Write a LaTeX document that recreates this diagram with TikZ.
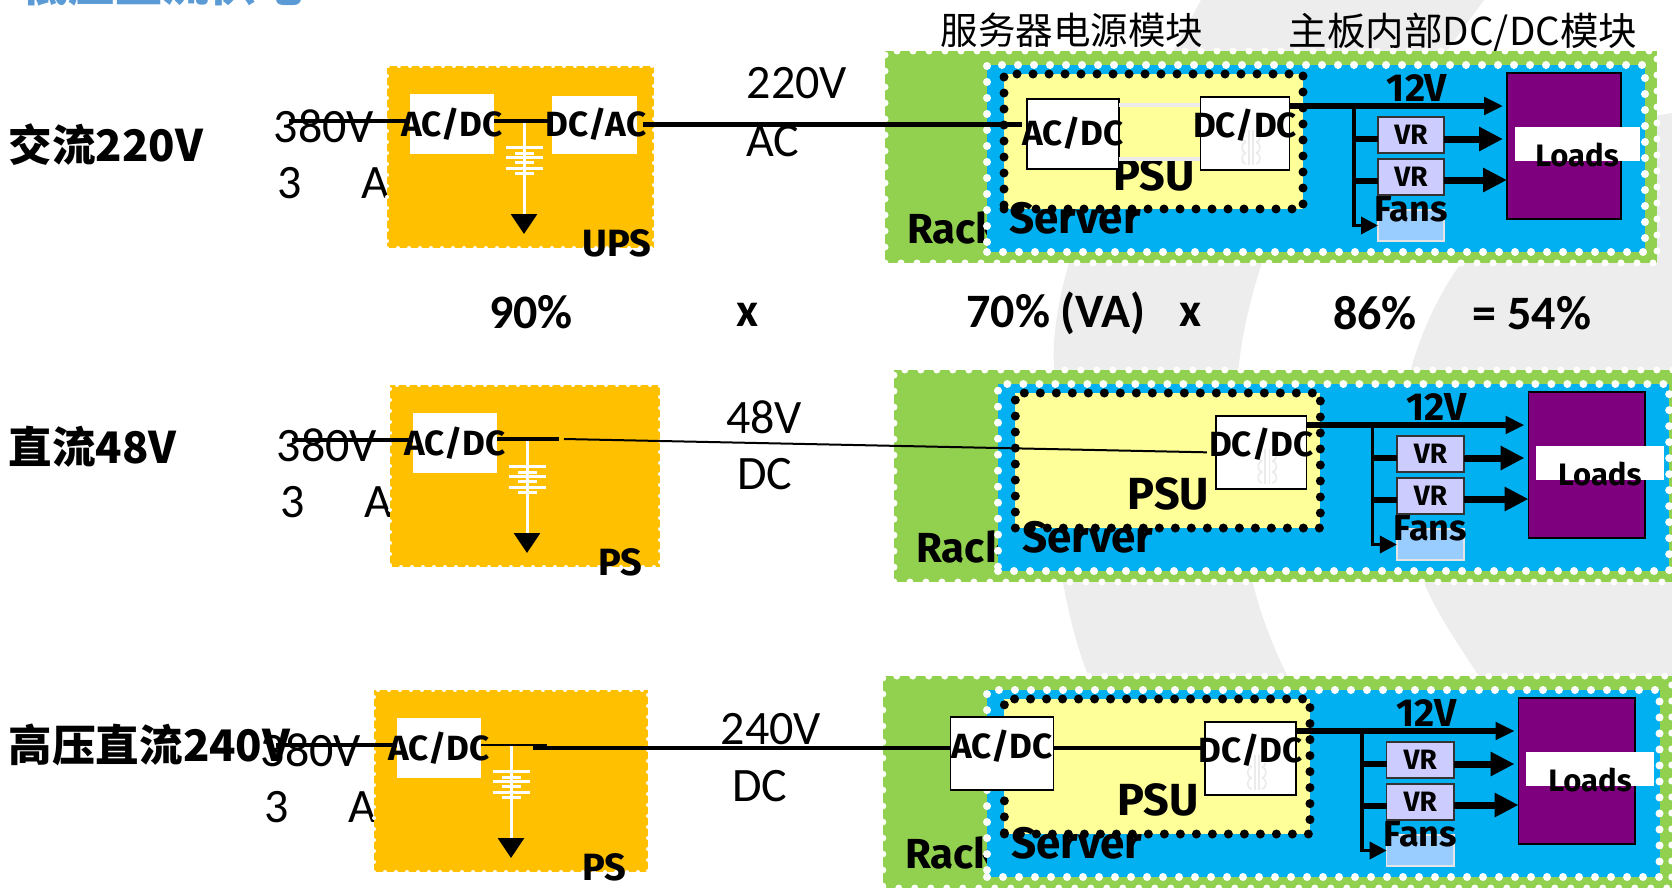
\documentclass[tikz,border=0pt]{standalone}
\usepackage{fontspec}
\setmainfont{Carlito}
\newfontfamily\comicfont{Fira Sans}
\newfontfamily\cjkfont{Noto Sans CJK SC}
\usetikzlibrary{arrows.meta}
\newcommand{\fsz}[1]{\fontsize{#1}{#1}\selectfont}

\tikzset{
  every node/.style={inner sep=0pt, outer sep=0pt},
  wmark/.style={fill=black!7},
  rackbox/.style={fill=rackgreen, draw=white, line width=7pt, line cap=round, dash pattern=on 0pt off 16pt},
  serverbox/.style={fill=serverblue, draw=white, line width=8pt, line cap=round, dash pattern=on 0pt off 16pt},
  psubox/.style={fill=psuyellow, draw=black, line width=9pt, line cap=round, dash pattern=on 0pt off 16pt},
  upsbox/.style={fill=upsorange, draw=white, line width=4pt, line cap=round, dash pattern=on 0pt off 11pt},
  modbox/.style={fill=white, draw=black, line width=1.6pt},
  plainbox/.style={fill=white},
  vrbox/.style={fill=vrblue, draw=black!80, line width=1.6pt},
  fanbox/.style={fill=fanblue, draw=black!10, line width=1.6pt},
  loadbox/.style={fill=loadpurple, draw=black, line width=1.6pt},
  comic/.style={font=\comicfont\bfseries\fsz{#1}},
  plain/.style={font=\fsz{48}},
  bold/.style={font=\bfseries\fsz{48}},
  rowlabel/.style={font=\cjkfont\bfseries\fsz{43.5}, anchor=west},
  headlabel/.style={font=\cjkfont\fsz{37.5}},
  wire/.style={line width=4.5pt},
  mainarrow/.style={line width=6pt, -{Triangle[length=19pt,width=17pt]}},
  bigarrow/.style={line width=7pt, -{Triangle[length=24pt,width=23pt]}},
  busline/.style={line width=3.5pt},
  batline/.style={draw=white, line width=3pt},
  xfmr/.style={draw=black!8, line width=1.6pt}
}
\definecolor{rackgreen}{HTML}{92D050}
\definecolor{serverblue}{HTML}{00B0F0}
\definecolor{psuyellow}{HTML}{FFFF99}
\definecolor{upsorange}{HTML}{FFC000}
\definecolor{vrblue}{HTML}{CCCCFF}
\definecolor{fanblue}{HTML}{99CCFF}
\definecolor{loadpurple}{HTML}{7F007F}
\definecolor{titleblue}{HTML}{5B9BD5}

\begin{document}
\begin{tikzpicture}[x=1pt, y=-1pt]
\useasboundingbox (0,0) rectangle (1672,887);
\clip (0,0) rectangle (1672,887);

% backdrop
\fill[wmark] (1201,0) .. controls (1130,130) and (1080,220) .. (1069,263)
  .. controls (1058,300) and (1052,340) .. (1054,365)
  .. controls (1052,450) and (1056,540) .. (1063,583)
  .. controls (1070,620) and (1078,650) .. (1088,675)
  -- (1150,887) -- (1672,887) -- (1672,113) -- (1600,125) -- (1440,60) -- (1484,0) -- cycle;
\fill[white] (1300,110) -- (1262,263) .. controls (1250,300) and (1242,335) .. (1239,365)
  .. controls (1237,450) and (1243,540) .. (1253,583)
  .. controls (1262,620) and (1275,650) .. (1287,675) -- (1350,887) -- (1600,887)
  -- (1478,675) .. controls (1455,640) and (1435,610) .. (1424,583)
  .. controls (1405,500) and (1400,430) .. (1412,365)
  .. controls (1425,320) and (1445,285) .. (1461,263) -- (1540,110) -- cycle;

\node (title) [font=\cjkfont\bfseries\fsz{47}, text=titleblue, anchor=base west] at (21,1) {低压直流供电};
\node (headpsu) [headlabel] at (1072,30) {服务器电源模块};
\node (headvr) [headlabel, font=\cjkfont\fsz{38.5}] at (1463,33) {主板内部DC/DC模块};

\node (rowa) [rowlabel] at (9,145) {交流220V};
\node (rowb) [rowlabel] at (9,447) {直流48V};
\node (rowc) [rowlabel] at (9,745) {高压直流240V};

% the power cabinet on the left of each row
\foreach \r/\rx/\ry/\w/\ps in {1/387/66/267/UPS, 2/390/385/270/PS, 3/374/690/274/PS}
{
  \begin{scope}[shift={(\rx,\ry)}]
    \node (volt\r) [plain] at (-63,60) {380V};
    \node (phase\r) [plain, anchor=west] at (-110,117) {3\hspace{60pt}A};
    \node (ups\r) [upsbox, minimum width=\w pt, minimum height=182pt, anchor=north west] at (0,0) {};
    \node (rect\r) [plainbox, minimum width=84pt, minimum height=60pt] at (65,58) {};
    \coordinate (in\r) at (-98,55);
    \draw[wire] (in\r) -- (in\r -| rect\r.west);
    \coordinate (bat\r) at (137,55);
    \draw[batline, -{Triangle[length=20pt,width=26pt,color=black]}] (bat\r) -- (137,168);
    \foreach \k/\b in {81/37, 87/19, 91/37, 96/19, 102/37, 107/19}
      \draw[batline, draw=white] ({137-\b/2},\k) -- ({137+\b/2},\k);
    \node (rectlbl\r) [comic=35] at (65,58) {AC/DC};
    \node (pslbl\r) [comic=38] at (230,177) {\ps};
  \end{scope}
}

% rack, server and power supply of each row
\foreach \r/\rx/\ry/\sx in {1/987/0/1, 2/998/319/1.02, 3/987/625/1.022}
{
  \begin{scope}[shift={(\rx,\ry)}, xscale=\sx]
    \node (rack\r) [rackbox, minimum width=\sx*772pt, minimum height=212pt] at (284,157) {};
    \node (racklbl\r) [comic=42, anchor=west] at (-80,228) {Rack};
    \node (server\r) [serverbox, minimum width=\sx*658pt, minimum height=187pt] at (329,158.5) {};
    \node (psu\r) [psubox, minimum width=\sx*299pt, minimum height=135pt] at (166.5,141.5) {};
    \node (serverlbl\r) [comic=44] at (88,218) {Server};
    \node (psulbl\r) [comic=45] at (167,175) {PSU};
    \node (dcdc\r) [modbox, minimum width=\sx*89pt, minimum height=73pt] at (258,133.5) {};
    \foreach \k in {0,1,2}
    {
      \draw[xfmr] (259,{142+\k*11}) arc (90:270:4 and 5.5);
      \draw[xfmr] (269,{142+\k*11}) arc (90:-90:4 and 5.5);
    }
    \draw[xfmr] (262,130) -- (262,165);
    \draw[xfmr] (266,130) -- (266,165);
    \node (dcdclbl\r) [comic=35] at (258,125) {DC/DC};
    \node (loads\r) [loadbox, minimum width=\sx*114pt, minimum height=146pt] at (577,146) {};
    \node (loadtag\r) [plainbox, minimum width=\sx*125pt, minimum height=34pt] at (590,144) {};
    \node (loadlbl\r) [comic=31] at (590,155) {Loads};
    \node (vra\r) [vrbox, minimum width=\sx*66pt, minimum height=36pt] at (424,135) {};
    \node (vrb\r) [vrbox, minimum width=\sx*66pt, minimum height=36pt] at (424,177) {};
    \node (fans\r) [fanbox, minimum width=\sx*66pt, minimum height=31pt] at (424,225.5) {};
    \coordinate (bus\r) at (367,106);
    \draw[mainarrow, shorten >=4pt] (bus\r -| dcdc\r.east) -- (bus\r -| loads\r.west);
    \draw[busline, -{Triangle[length=17pt,width=17pt]}] (bus\r) |- (fans\r.west);
    \draw[wire, line width=6.5pt] ([yshift=-4pt]bus\r |- vra\r.west) -- ([yshift=-4pt]vra\r.west);
    \draw[wire, line width=6.5pt] ([yshift=-4pt]bus\r |- vrb\r.west) -- ([yshift=-4pt]vrb\r.west);
    \draw[bigarrow, shorten >=4pt] ([yshift=-4pt]vra\r.east) -- ([yshift=-4pt]vra\r.east -| loads\r.west);
    \draw[bigarrow] ([yshift=-3pt]vrb\r.east) -- ([yshift=-3pt]vrb\r.east -| loads\r.west);
    \node (vralbl\r) [comic=28] at (424,135) {VR};
    \node (vrblbl\r) [comic=28] at (424,177) {VR};
    \node (fanlbl\r) [comic=36] at (424,209) {Fans};
    \node (twelve\r) [comic=39] at (430,88) {12V};
  \end{scope}
}

% row 1
\node (inv1) [plainbox, minimum width=85pt, minimum height=58pt] at (594.5,125) {};
\draw[wire] (rect1.east |- in1) -- (inv1.west |- in1);
\node (invlbl1) [comic=35] at (596,124) {DC/AC};
\node (acdc1) [modbox, minimum width=92pt, minimum height=70pt] at (1073,134) {};
\draw[draw=black!8, line width=4pt] (acdc1.east |- dcdc1.north) ++(0,8) -- ++(81,0);
\draw[draw=black!8, line width=4pt] (acdc1.east |- dcdc1.south) ++(0,-11) -- ++(81,0);
\coordinate (out1) at (643,124.5);
\draw[wire, shorten >=5pt] (out1) -- (out1 -| acdc1.west);
\node (acdclbl1) [comic=35] at (1073,133) {AC/DC};
\node (upv1) [plain] at (797,83) {220V};
\node (upt1) [plain] at (773,141) {AC};

% row 2
\coordinate (out2) at (559,439);
\draw[wire] (out2 -| rect2.east) -- (out2);
\coordinate (cut2) at (564,439);
\draw[line width=2pt, shorten >=9pt] (cut2) -- (dcdc2.west);
\node (upv2) [plain] at (764,417) {48V};
\node (upt2) [plain] at (765,474) {DC};

% row 3
\node (acdc3) [modbox, minimum width=103pt, minimum height=73pt] at (1002,753.5) {};
\coordinate (out3) at (533,748);
\draw[line width=2.5pt] (rect3.east |- 0,745) -- (547,745);
\draw[wire] (out3) -- (out3 -| acdc3.west);
\draw[wire] (acdc3.east |- out3) -- (dcdc3.west |- out3);
\node (acdclbl3) [comic=35] at (1002,746) {AC/DC};
\node (upv3) [plain] at (771,729) {240V};
\node (upt3) [plain] at (760,786) {DC};

% efficiencies
\node (effa) [bold] at (531,312) {90\%};
\node (mula) [bold] at (748,315) {x};
\node (effb) [bold] at (1056,313) {70\% (VA)};
\node (mulb) [bold] at (1191,315) {x};
\node (effc) [bold] at (1375,313) {86\%};
\node (effd) [bold] at (1532,313) {= 54\%};
\end{tikzpicture}
\end{document}
